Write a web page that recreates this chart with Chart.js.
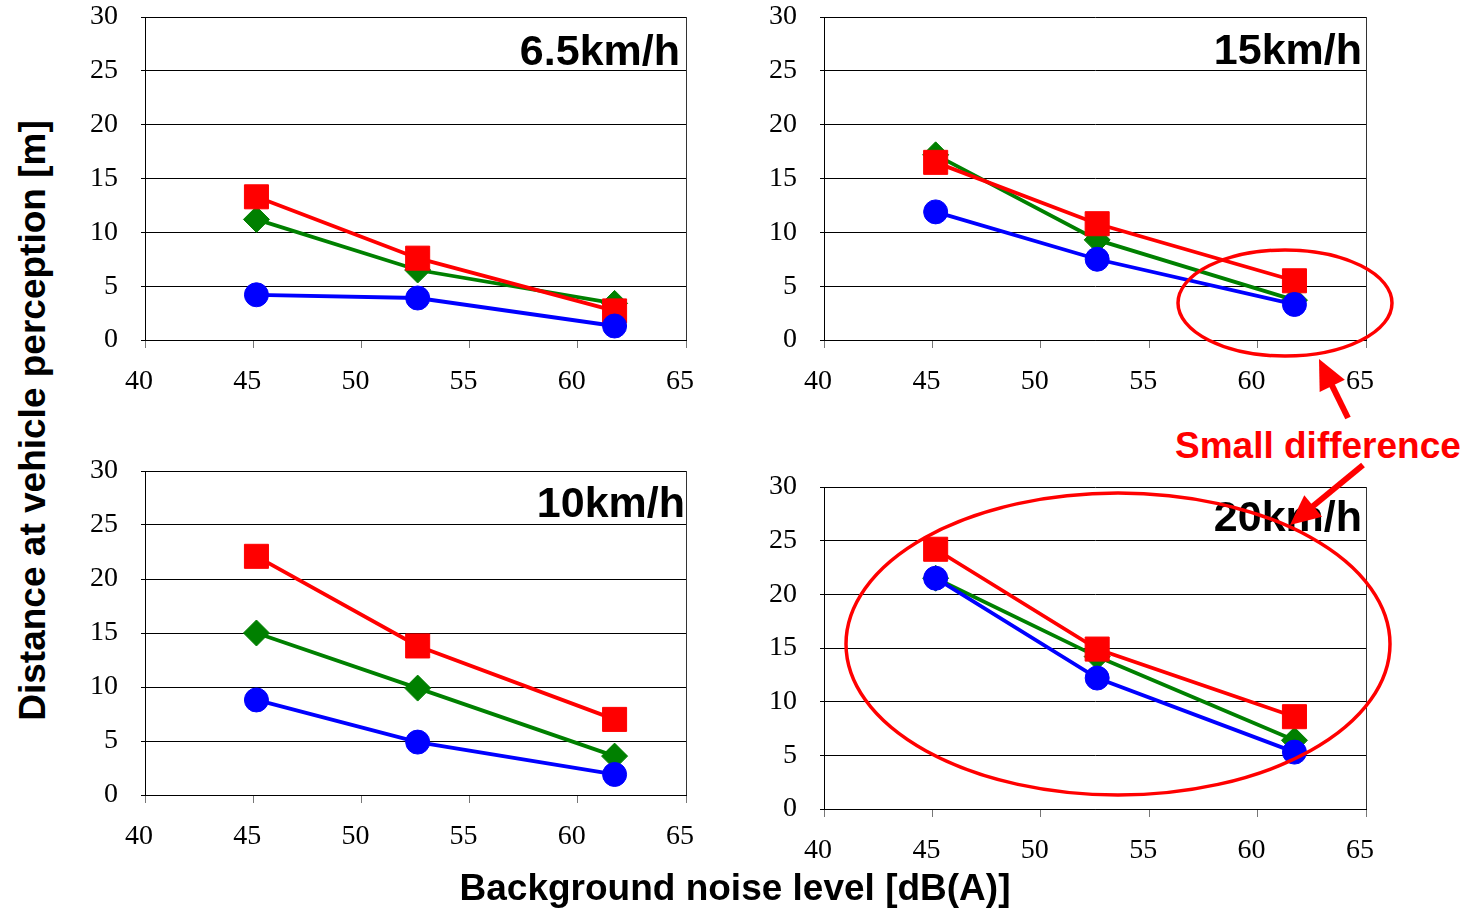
<!DOCTYPE html>
<html>
<head>
<meta charset="utf-8">
<script src="https://cdn.jsdelivr.net/npm/chart.js@4.4.1/dist/chart.umd.min.js"></script>
<style>
  html, body { margin: 0; padding: 0; background: #fff; }
  body { width: 1477px; height: 909px; position: relative; overflow: hidden; font-family: "Liberation Sans", Arial, sans-serif; }
  .box { position: absolute; }
  .title { position: absolute; font-weight: bold; font-size: 43px; line-height: 43px; color: #000; white-space: nowrap; text-align: right; }
  .axis-title { position: absolute; font-weight: bold; font-size: 37px; line-height: 37px; color: #000; white-space: nowrap; text-align: center; }
  .note { position: absolute; font-weight: bold; font-size: 37px; line-height: 37px; color: #ff0000; white-space: nowrap; }
  svg.overlay { position: absolute; left: 0; top: 0; pointer-events: none; }
</style>
</head>
<body>
<script>
// ---- data ----
const noiseLevels = [45.15, 52.6, 61.7];           // background noise level [dB(A)]
const xTickRange = [40, 65];
const yTickRange = [0, 30];
const panelTitles = ['6.5km/h', '15km/h', '10km/h', '20km/h'];

const squares_6_5 = [13.3, 7.6, 2.7];
const diamonds_6_5 = [11.2, 6.5, 3.4];
const circles_6_5 = [4.2, 3.9, 1.3];

const squares_15 = [16.5, 10.8, 5.5];
const diamonds_15 = [17.2, 9.3, 3.7];
const circles_15 = [11.9, 7.5, 3.3];

const squares_10 = [22.1, 13.8, 7.0];
const diamonds_10 = [15.0, 9.9, 3.6];
const circles_10 = [8.8, 4.9, 1.9];

const squares_20 = [24.2, 14.9, 8.6];
const diamonds_20 = [21.5, 14.2, 6.4];
const circles_20 = [21.5, 12.2, 5.3];

// ---- layout ----
const panels = [
  { title: panelTitles[0], area: { left: 145, right: 686, top: 17, bottom: 340 }, sq: squares_6_5, di: diamonds_6_5, ci: circles_6_5 },
  { title: panelTitles[1], area: { left: 824, right: 1366, top: 17, bottom: 340 }, sq: squares_15, di: diamonds_15, ci: circles_15 },
  { title: panelTitles[2], area: { left: 145, right: 686, top: 471, bottom: 795 }, sq: squares_10, di: diamonds_10, ci: circles_10 },
  { title: panelTitles[3], area: { left: 824, right: 1366, top: 487, bottom: 809 }, sq: squares_20, di: diamonds_20, ci: circles_20 }
];
const titleBaselines = [65, 64, 517, 531];
const titleRights = [680, 1362, 685, 1362];

const Y_AXIS_W = 70, X_AXIS_H = 60, PAD_TOP = 20, PAD_RIGHT = 25;

const frame = {
  id: 'frame',
  beforeDatasetsDraw(chart) {
    const a = chart.chartArea, ctx = chart.ctx;
    ctx.save();
    ctx.strokeStyle = '#333';
    ctx.lineWidth = 1;
    ctx.beginPath();
    ctx.moveTo(Math.round(a.right) + 0.5, a.top);
    ctx.lineTo(Math.round(a.right) + 0.5, a.bottom);
    ctx.stroke();
    ctx.restore();
  }
};

function zeroPad(s) { s.paddingTop = 0; s.paddingBottom = 0; s.paddingLeft = 0; s.paddingRight = 0; }
function pts(ys) { return noiseLevels.map((x, i) => ({ x: x, y: ys[i] })); }

panels.forEach((p, idx) => {
  const a = p.area;
  const w = (a.right - a.left) + Y_AXIS_W + PAD_RIGHT;
  const h = (a.bottom - a.top) + PAD_TOP + X_AXIS_H;
  const div = document.createElement('div');
  div.className = 'box';
  div.style.left = (a.left - Y_AXIS_W) + 'px';
  div.style.top = (a.top - PAD_TOP) + 'px';
  div.style.width = w + 'px';
  div.style.height = h + 'px';
  const cv = document.createElement('canvas');
  cv.width = w; cv.height = h;
  cv.style.width = w + 'px'; cv.style.height = h + 'px';
  cv.style.display = 'block';
  div.appendChild(cv);
  document.body.appendChild(div);

  new Chart(cv.getContext('2d'), {
    type: 'line',
    data: {
      datasets: [
        { label: 'circles', data: pts(p.ci), borderColor: '#0000ff', backgroundColor: '#0000ff',
          pointStyle: 'circle', pointRadius: 12, pointBorderWidth: 1, borderWidth: 3.8, tension: 0 },
        { label: 'squares', data: pts(p.sq), borderColor: '#ff0000', backgroundColor: '#ff0000',
          pointStyle: 'rect', pointRadius: 17, pointBorderWidth: 1, borderWidth: 3.8, tension: 0 },
        { label: 'diamonds', data: pts(p.di), borderColor: '#008000', backgroundColor: '#008000',
          pointStyle: 'rectRot', pointRadius: 13, pointBorderWidth: 1, borderWidth: 3.8, tension: 0 }
      ]
    },
    options: {
      responsive: false,
      animation: false,
      events: [],
      layout: { autoPadding: false, padding: { top: PAD_TOP, right: PAD_RIGHT, left: 0, bottom: 0 } },
      plugins: { legend: { display: false }, tooltip: { enabled: false } },
      scales: {
        x: {
          type: 'linear', min: xTickRange[0], max: xTickRange[1],
          afterFit: s => { s.height = X_AXIS_H; zeroPad(s); },
          ticks: { stepSize: 5, color: '#000', padding: 17, maxRotation: 0, labelOffset: -6,
                   font: { family: '"Liberation Serif", "DejaVu Serif", serif', size: 28 } },
          grid: { drawOnChartArea: false, drawTicks: true, tickLength: 8, tickColor: '#777', tickWidth: 1 },
          border: { display: true, color: '#000', width: 1 }
        },
        y: {
          type: 'linear', min: yTickRange[0], max: yTickRange[1],
          afterFit: s => { s.width = Y_AXIS_W; zeroPad(s); },
          ticks: { stepSize: 5, color: '#000', padding: 23,
                   font: { family: '"Liberation Serif", "DejaVu Serif", serif', size: 28 } },
          grid: { color: '#000', lineWidth: 1, drawTicks: true, tickLength: 4, tickColor: '#000' },
          border: { display: true, color: '#000', width: 1 }
        }
      }
    },
    plugins: [frame]
  });

  const t = document.createElement('div');
  t.className = 'title';
  t.textContent = p.title;
  t.style.right = (1477 - titleRights[idx]) + 'px';
  t.style.top = (titleBaselines[idx] - 0.8465 * 43) + 'px';
  document.body.appendChild(t);
});

// axis titles
const xt = document.createElement('div');
xt.className = 'axis-title';
xt.textContent = 'Background noise level [dB(A)]';
xt.style.left = (735 - 400) + 'px';
xt.style.width = '800px';
xt.style.top = (900 - 0.8465 * 37) + 'px';
document.body.appendChild(xt);

const yt = document.createElement('div');
yt.className = 'axis-title';
yt.textContent = 'Distance at vehicle perception [m]';
yt.style.width = '800px';
yt.style.height = '37px';
yt.style.left = (32 - 400) + 'px';
yt.style.top = (420 - 18.5) + 'px';
yt.style.transform = 'rotate(-90deg)';
yt.style.transformOrigin = '50% 50%';
document.body.appendChild(yt);

// annotation text
const note = document.createElement('div');
note.className = 'note';
note.textContent = 'Small difference';
note.style.left = '1175px';
note.style.top = (458 - 0.8465 * 37) + 'px';
document.body.appendChild(note);

// annotation shapes (ellipses + arrows)
const NS = 'http://www.w3.org/2000/svg';
const svg = document.createElementNS(NS, 'svg');
svg.setAttribute('class', 'overlay');
svg.setAttribute('width', '1477');
svg.setAttribute('height', '909');
function ell(cx, cy, rx, ry) {
  const e = document.createElementNS(NS, 'ellipse');
  e.setAttribute('cx', cx); e.setAttribute('cy', cy);
  e.setAttribute('rx', rx); e.setAttribute('ry', ry);
  e.setAttribute('fill', 'none'); e.setAttribute('stroke', '#ff0000'); e.setAttribute('stroke-width', '3.5');
  svg.appendChild(e);
}
function arrow(x1, y1, x2, y2) {
  const dx = x2 - x1, dy = y2 - y1, L = Math.hypot(dx, dy);
  const ux = dx / L, uy = dy / L, nx = -uy, ny = ux;
  const hl = 30, hw = 14;
  const bx = x2 - ux * hl, by = y2 - uy * hl;
  const ln = document.createElementNS(NS, 'line');
  ln.setAttribute('x1', x1); ln.setAttribute('y1', y1);
  ln.setAttribute('x2', bx + ux * 2); ln.setAttribute('y2', by + uy * 2);
  ln.setAttribute('stroke', '#ff0000'); ln.setAttribute('stroke-width', '6');
  svg.appendChild(ln);
  const pg = document.createElementNS(NS, 'polygon');
  pg.setAttribute('points', `${x2},${y2} ${bx + nx * hw},${by + ny * hw} ${bx - nx * hw},${by - ny * hw}`);
  pg.setAttribute('fill', '#ff0000');
  svg.appendChild(pg);
}
ell(1285, 303, 107, 53);
ell(1118, 644, 272, 151);
arrow(1348, 418, 1319, 359);
arrow(1363, 465, 1290, 525);
document.body.appendChild(svg);
</script>
</body>
</html>
